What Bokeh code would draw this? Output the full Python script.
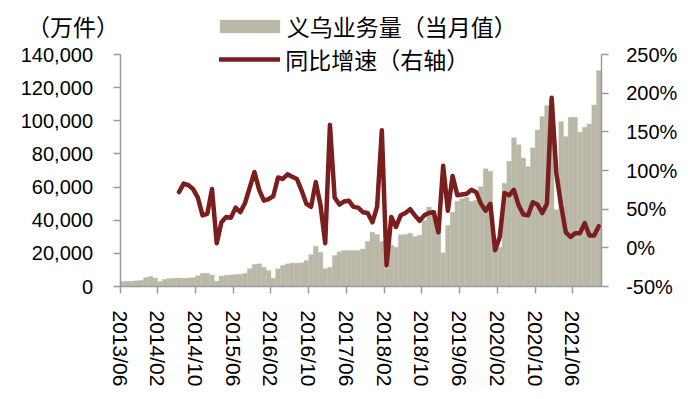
from bokeh.plotting import figure
from bokeh.models import (Range1d, LinearAxis, FixedTicker, NumeralTickFormatter,
                          PrintfTickFormatter, Legend, LegendItem, Label, ColumnDataSource)
from bokeh.embed import file_html
from bokeh.resources import INLINE

# ---------------- data ----------------
start_year, start_month = 2013, 6
n_months = 102
months = []
y, m = start_year, start_month
for _ in range(n_months):
    months.append(f"{y}/{m:02d}")
    m += 1
    if m > 12:
        m = 1
        y += 1

# 义乌业务量（当月值），万件, 2013/06 .. 2021/11
volume = [
    3000, 3100, 3200, 3400, 3800, 5500, 6000,                      # 2013/06-12
    5000, 3000, 4300, 4800, 5000, 5200, 5000, 5200, 5500, 6500, 8000, 8000,   # 2014
    7000, 3200, 6300, 6800, 7000, 7200, 7400, 7800, 10700, 13300, 13700, 11600,  # 2015
    9700, 5000, 10700, 12700, 13700, 14100, 14100, 14300, 15700, 19300, 24300, 20700,  # 2016
    10700, 11600, 18700, 21000, 21700, 21700, 21700, 21700, 22700, 27100, 32800, 31400,  # 2017
    27100, 10900, 25100, 23700, 31200, 31400, 32200, 30200, 31000, 39800, 47900, 45800,  # 2018
    40000, 20300, 36800, 44800, 51500, 52900, 53900, 51500, 52000, 60300, 71000, 69600,  # 2019
    24000, 23700, 62300, 75600, 89700, 85500, 77600, 72400, 83700, 94500, 102600, 109200,  # 2020
    112000, 46300, 99600, 90500, 102100, 102100, 93100, 96100, 98100, 109600, 130300,  # 2021/01-11
]

# 同比增速（右轴）, %, 2014/06 .. 2021/11
yoy_start = 12
yoy = [
    72, 83, 81, 76, 65, 42, 44,                                   # 2014/06-12
    76, 6, 33, 40, 39, 52, 46, 58, 78, 98, 75, 61,                # 2015
    63, 67, 91, 89, 95, 92, 89, 74, 57, 53, 85, 55,               # 2016
    6, 159, 65, 56, 60, 61, 53, 52, 46, 45, 33, 53,               # 2017
    152, -23, 40, 27, 42, 45, 50, 42, 35, 42, 45, 46,             # 2018
    20, 106, 48, 93, 68, 69, 70, 75, 72, 57, 48, 57,              # 2019
    -3, 14, 71, 68, 75, 55, 43, 42, 59, 56, 45, 57,               # 2020
    194, 96, 55, 20, 14, 19, 19, 32, 16, 16, 28,                  # 2021/01-11
]

tick_step = 8
tick_idx = list(range(0, n_months, tick_step))
tick_labels = [months[i] for i in tick_idx]

left_min, left_max = 0, 140000
right_min, right_max = -50, 250
left_ticks = [0, 20000, 40000, 60000, 80000, 100000, 120000, 140000]
right_ticks = [-50, 0, 50, 100, 150, 200, 250]

bar_color = "#BAB8A7"
line_color = "#7A1E1E"
axis_color = "#9A9A9A"
num_font = "Liberation Sans"
cjk_font = "Noto Sans CJK SC"

# ---------------- geometry (pixels) ----------------
# The frame covers the whole canvas; axes are pinned with fixed_location so
# the legend and unit text (which sit outside the axes box) are not clipped.
W, H = 700, 399
ax_left, ax_right = 119.5, 600.7     # x of left / right axis lines
ax_top, ax_bottom = 54, 286          # y of 140,000 and of 0

sx = (ax_right - ax_left) / n_months
x_start = -ax_left / sx
x_end = x_start + W / sx

sy_l = (ax_bottom - ax_top) / (left_max - left_min)
yl_start = left_min - (H - ax_bottom) / sy_l
yl_end = yl_start + H / sy_l

sy_r = (ax_bottom - ax_top) / (right_max - right_min)
yr_start = right_min - (H - ax_bottom) / sy_r
yr_end = yr_start + H / sy_r

p = figure(width=W, height=H, output_backend="svg", toolbar_location=None,
           x_range=Range1d(x_start, x_end), y_range=Range1d(yl_start, yl_end),
           min_border=0, min_border_left=0, min_border_right=0,
           min_border_top=0, min_border_bottom=0)
p.outline_line_color = None
p.xgrid.visible = False
p.ygrid.visible = False
p.background_fill_color = "white"
p.border_fill_color = "white"

p.extra_y_ranges = {"pct": Range1d(yr_start, yr_end)}

bar_src = ColumnDataSource(dict(x=[i + 0.5 for i in range(n_months)], top=volume))
bars = p.vbar(x="x", top="top", width=1.0, source=bar_src,
              fill_color=bar_color, line_color=bar_color, line_width=0.3)

line_src = ColumnDataSource(dict(x=[yoy_start + i + 0.5 for i in range(len(yoy))], y=yoy))
ln = p.line(x="x", y="y", source=line_src, y_range_name="pct",
            line_color=line_color, line_width=4.5, line_join="round", line_cap="round")


def style_axis(ax, font_size, standoff):
    ax.major_label_text_font = num_font
    ax.major_label_text_font_size = font_size
    ax.major_label_text_color = "black"
    ax.major_label_standoff = standoff
    ax.major_tick_out = 7
    ax.major_tick_in = 0
    ax.minor_tick_line_color = None
    ax.axis_line_color = axis_color
    ax.axis_line_width = 1.5
    ax.major_tick_line_color = axis_color
    ax.major_tick_line_width = 1.5


# x axis
xa = p.xaxis[0]
xa.ticker = FixedTicker(ticks=tick_idx)
xa.major_label_overrides = {i: lab for i, lab in zip(tick_idx, tick_labels)}
xa.major_label_orientation = "vertical"
xa.bounds = (0, n_months)
xa.fixed_location = left_min
style_axis(xa, "21px", 17)

# left axis
ya = p.yaxis[0]
ya.ticker = FixedTicker(ticks=left_ticks)
ya.formatter = NumeralTickFormatter(format="0,0")
ya.bounds = (left_min, left_max)
ya.fixed_location = 0
style_axis(ya, "20px", 20)

# right axis
ra = LinearAxis(y_range_name="pct", ticker=FixedTicker(ticks=right_ticks),
                formatter=PrintfTickFormatter(format="%d%%"), bounds=(right_min, right_max),
                fixed_location=n_months)
style_axis(ra, "20px", 18)
p.add_layout(ra, "right")

# unit label
p.add_layout(Label(x=72.5, y=H - 25, x_units="screen", y_units="screen", text="（万件）",
                   text_font=cjk_font, text_font_size="23px", text_color="black",
                   text_align="center", text_baseline="middle"))


def legend(label, renderer, loc, gw, standoff):
    return Legend(items=[LegendItem(label=label, renderers=[renderer])],
                  location=loc, orientation="vertical",
                  glyph_width=gw, glyph_height=16, label_standoff=standoff,
                  label_text_font=cjk_font, label_text_font_size="23px",
                  label_text_color="black", label_height=16,
                  padding=0, margin=0, spacing=0,
                  background_fill_alpha=0, border_line_alpha=0)


half_h = 17  # approx half height of a legend row
# bar swatch is drawn at 80% of the glyph box: 75 px box -> 60 px swatch starting at +7.5
p.add_layout(legend("义乌业务量（当月值）", bars, (211.8, H - (26.3 + half_h)), 75, 0), "center")
p.add_layout(legend("同比增速（右轴）", ln, (219.3, H - (59.3 + half_h)), 61, 5), "center")

open("out.html", "w").write(file_html(p, INLINE))
